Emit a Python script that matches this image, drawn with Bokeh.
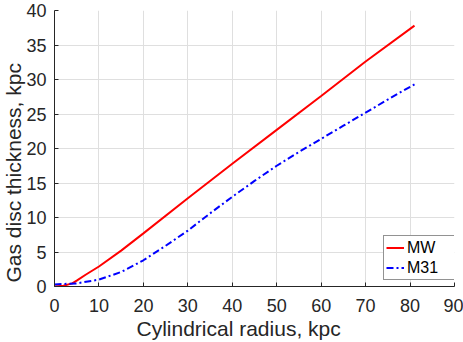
from bokeh.plotting import figure
from bokeh.models import Range1d, FixedTicker, Title, Legend, LegendItem
from bokeh.embed import file_html
from bokeh.resources import INLINE

# --- data ---
mw_r = [0, 2, 4, 5, 7, 10, 15, 20, 30, 40, 50, 60, 70, 81]
mw_h = [0.0, 0.1, 0.45, 0.85, 1.7, 2.9, 5.2, 7.7, 12.8, 17.8, 22.7, 27.6, 32.6, 37.8]

m31_r = [0, 5, 10, 15, 20, 25, 30, 35, 40, 45, 50, 55, 60, 65, 70, 75, 81]
m31_h = [0.3, 0.45, 1.0, 2.1, 3.8, 5.9, 8.1, 10.6, 13.0, 15.3, 17.5, 19.5, 21.4, 23.3, 25.2, 27.1, 29.3]

x_ticks = [0, 10, 20, 30, 40, 50, 60, 70, 80, 90]
y_ticks = [0, 5, 10, 15, 20, 25, 30, 35, 40]

FONT = "Liberation Sans"
AX = "#262626"

p = figure(width=463, height=342, output_backend="svg", toolbar_location=None,
           x_range=Range1d(0, 90), y_range=Range1d(0, 40),
           min_border_left=54, min_border_right=9, min_border_top=10, min_border_bottom=56)
p.title_location = None
p.outline_line_color = None
p.background_fill_color = "white"
p.border_fill_color = "white"

for ax, ticks in ((p.xaxis[0], x_ticks), (p.yaxis[0], y_ticks)):
    ax.ticker = FixedTicker(ticks=ticks)
    ax.axis_line_color = AX
    ax.axis_line_width = 1
    ax.major_tick_line_color = AX
    ax.major_tick_in = 4
    ax.major_tick_out = 0
    ax.minor_tick_line_color = None
    ax.major_label_text_font = FONT
    ax.major_label_text_font_size = "18px"
    ax.major_label_text_color = AX
    ax.axis_label_standoff = 0

p.xaxis[0].major_label_standoff = 12
p.yaxis[0].major_label_standoff = 8

yt = Title(text="Gas disc thickness, kpc", align="left", offset=4,
           vertical_align="top",
           text_font=FONT, text_font_size="21px", text_font_style="normal",
           text_color=AX, standoff=-6)
p.add_layout(yt, "left")

xt = Title(text="Cylindrical radius, kpc", align="left", offset=82,
           text_font=FONT, text_font_size="21px", text_font_style="normal",
           text_color=AX, standoff=0)
p.add_layout(xt, "below")

p.xgrid.grid_line_color = "#dfdfdf"
p.ygrid.grid_line_color = "#dfdfdf"

r_mw = p.line(mw_r, mw_h, line_color="#ff0000", line_width=2)
r_m31 = p.line(m31_r, m31_h, line_color="#0000ff", line_width=2, line_dash="7 3 2 3")

leg = Legend(items=[LegendItem(label="MW", renderers=[r_mw]),
                    LegendItem(label="M31", renderers=[r_m31])],
             location=(329, 6))
leg.label_text_font = FONT
leg.label_text_font_size = "16px"
leg.label_text_color = "#000000"
leg.glyph_width = 18
leg.glyph_height = 19
leg.label_height = 19
leg.label_width = 45
leg.label_standoff = 3
leg.padding = 2
leg.spacing = 1
leg.margin = 0
leg.border_line_color = AX
leg.border_line_width = 1
leg.background_fill_color = "white"
leg.background_fill_alpha = 1
p.add_layout(leg, "center")

open("out.html", "w").write(file_html(p, INLINE))
